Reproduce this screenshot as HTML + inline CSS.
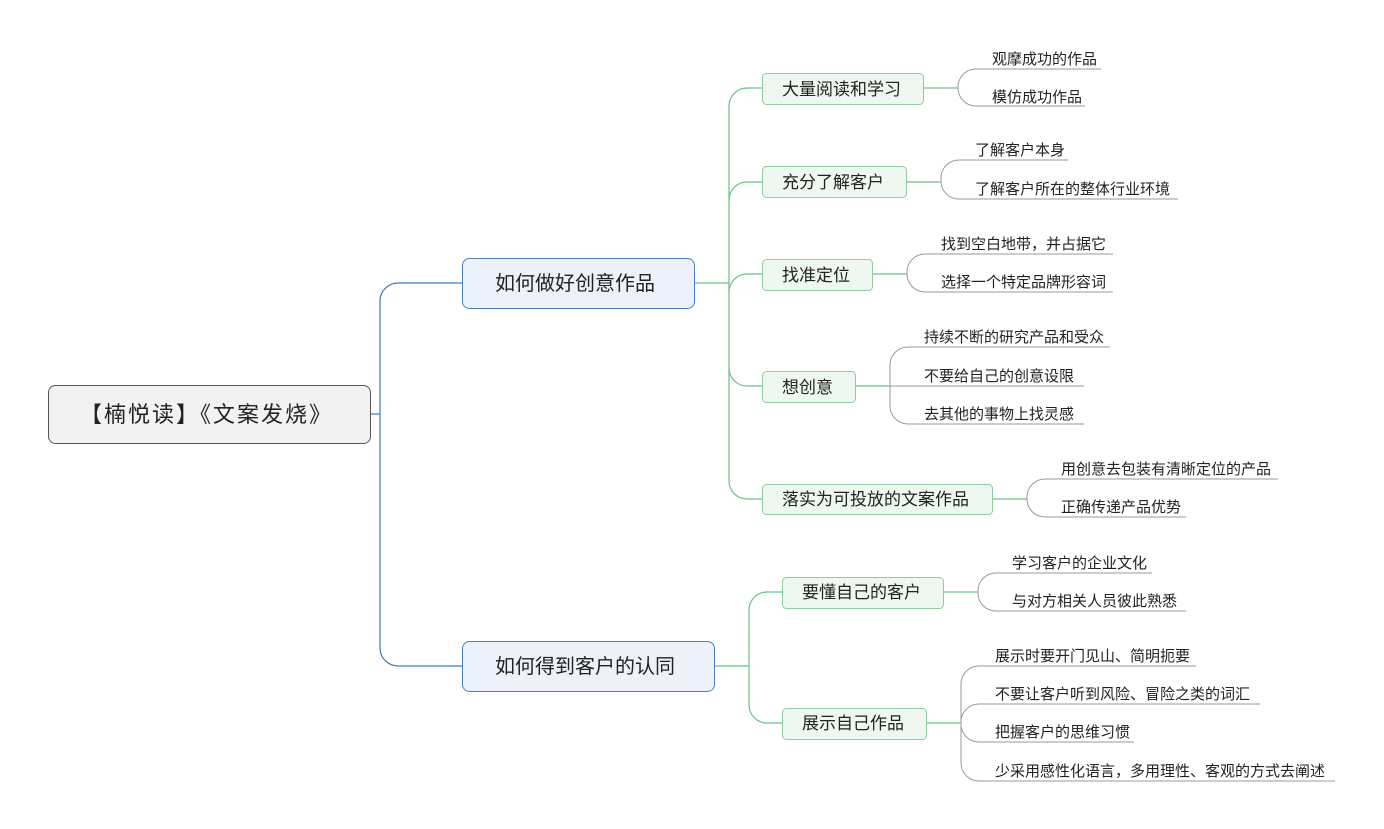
<!DOCTYPE html>
<html><head><meta charset="utf-8"><style>
html,body{margin:0;padding:0;background:#fff;}
svg{display:block;}
text{font-family:"Liberation Sans","Noto Sans CJK SC",sans-serif;fill:#222;}
</style></head><body>
<svg width="1384" height="829" viewBox="0 0 1384 829" xmlns="http://www.w3.org/2000/svg">
<g fill="none" stroke="#3d7cc0" stroke-width="1.2">
<path d="M371 414 H380"/>
<path d="M462 283 H398 A18 18 0 0 0 380 301 V648 A18 18 0 0 0 398 666 H462"/>
</g>
<g fill="none" stroke="#6cc08a" stroke-width="1.2">
<path d="M695 283 H729"/>
<path d="M762 88 H747 A18 18 0 0 0 729 106 V481 A18 18 0 0 0 747 499 H762"/>
<path d="M729 200 A18 18 0 0 1 747 182 H762"/>
<path d="M729 292 A18 18 0 0 1 747 274 H762"/>
<path d="M729 368 A18 18 0 0 0 747 386 H762"/>
<path d="M715 666 H749"/>
<path d="M782 592 H767 A18 18 0 0 0 749 610 V705 A18 18 0 0 0 767 723 H782"/>
<path d="M924 88 H958"/><path d="M907 182 H941"/><path d="M873 274 H907"/>
<path d="M856 386 H890"/><path d="M993 499 H1027"/><path d="M944 592 H978"/><path d="M927 723 H961"/>
</g>
<g fill="none" stroke="#9a9a9a" stroke-width="1">
<path d="M958 88 V87 A18 18 0 0 1 976 69 H1101"/><path d="M958 88 A18 18 0 0 0 976 106 H1085"/>
<path d="M941 182 V178 A18 18 0 0 1 959 160 H1068"/><path d="M941 182 A18 18 0 0 0 959 199 H1178"/>
<path d="M907 274 V272 A18 18 0 0 1 925 254 H1113"/><path d="M907 274 A18 18 0 0 0 925 292 H1113"/>
<path d="M890 386 V365 A18 18 0 0 1 908 347 H1110"/><path d="M890 386 H1084"/><path d="M890 386 V406 A18 18 0 0 0 908 424 H1084"/>
<path d="M1027 499 V497 A18 18 0 0 1 1045 479 H1278"/><path d="M1027 499 A18 18 0 0 0 1045 517 H1186"/>
<path d="M978 592 V591 A18 18 0 0 1 996 573 H1152"/><path d="M978 592 A18 18 0 0 0 996 611 H1186"/>
<path d="M961 723 V684 A18 18 0 0 1 979 666 H1196"/><path d="M961 723 V722 A18 18 0 0 1 979 704 H1260"/>
<path d="M961 723 V724 A18 18 0 0 0 979 742 H1134"/><path d="M961 723 V763 A18 18 0 0 0 979 781 H1335"/>
</g>
<rect x="48.5" y="385.5" width="322" height="58" rx="7" fill="#f2f2f2" stroke="#555"/>
<text x="80" y="422" font-size="22" letter-spacing="2">【楠悦读】《文案发烧》</text>
<rect x="462.5" y="258.5" width="232" height="50" rx="7" fill="#edf2fa" stroke="#4a7fc1"/>
<text x="495" y="290" font-size="20">如何做好创意作品</text>
<rect x="462.5" y="641.5" width="252" height="50" rx="7" fill="#edf2fa" stroke="#4a7fc1"/>
<text x="495" y="673" font-size="20">如何得到客户的认同</text>
<g fill="#eef7f0" stroke="#8fcca0">
<rect x="762.5" y="73.5" width="161" height="31" rx="4"/>
<rect x="762.5" y="166.5" width="144" height="31" rx="4"/>
<rect x="762.5" y="259.5" width="110" height="31" rx="4"/>
<rect x="762.5" y="371.5" width="93" height="31" rx="4"/>
<rect x="762.5" y="484.5" width="230" height="30" rx="4"/>
<rect x="782.5" y="577.5" width="161" height="31" rx="4"/>
<rect x="782.5" y="708.5" width="144" height="31" rx="4"/>
</g>
<g font-size="17">
<text x="782" y="95">大量阅读和学习</text>
<text x="782" y="188">充分了解客户</text>
<text x="782" y="281">找准定位</text>
<text x="782" y="393">想创意</text>
<text x="782" y="505">落实为可投放的文案作品</text>
<text x="802" y="598">要懂自己的客户</text>
<text x="802" y="729">展示自己作品</text>
</g>
<g font-size="15">
<text x="992" y="64">观摩成功的作品</text>
<text x="992" y="102">模仿成功作品</text>
<text x="975" y="155">了解客户本身</text>
<text x="975" y="194">了解客户所在的整体行业环境</text>
<text x="941" y="249">找到空白地带，并占据它</text>
<text x="941" y="287">选择一个特定品牌形容词</text>
<text x="924" y="342">持续不断的研究产品和受众</text>
<text x="924" y="381">不要给自己的创意设限</text>
<text x="924" y="419">去其他的事物上找灵感</text>
<text x="1061" y="474">用创意去包装有清晰定位的产品</text>
<text x="1061" y="512">正确传递产品优势</text>
<text x="1012" y="568">学习客户的企业文化</text>
<text x="1012" y="606">与对方相关人员彼此熟悉</text>
<text x="995" y="661">展示时要开门见山、简明扼要</text>
<text x="995" y="699">不要让客户听到风险、冒险之类的词汇</text>
<text x="995" y="737">把握客户的思维习惯</text>
<text x="995" y="776">少采用感性化语言，多用理性、客观的方式去阐述</text>
</g>
</svg>
</body></html>
